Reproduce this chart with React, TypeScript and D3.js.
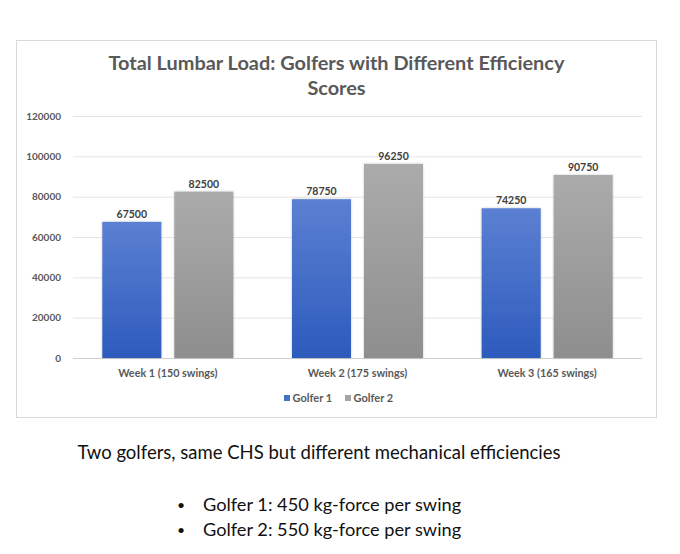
import * as d3 from 'd3'

const categories = ['Week 1 (150 swings)', 'Week 2 (175 swings)', 'Week 3 (165 swings)']
const seriesNames = ['Golfer 1', 'Golfer 2']
const golfer1 = [67500, 78750, 74250]
const golfer2 = [82500, 96250, 90750]
const yTicks = [0, 20000, 40000, 60000, 80000, 100000, 120000]

const W = 680
const H = 554
const PLOT = { left: 73, right: 642, top: 116, bottom: 358 }
const FONT = 'Lato, "Open Sans", sans-serif'
const TEXT = '#595959'

const GRADS = [
  { id: 'g1', top: '#5b80d2', bottom: '#2d5bbd', solid: '#4472c4' },
  { id: 'g2', top: '#ababab', bottom: '#8e8e8e', solid: '#a5a5a5' },
]

export default function App() {
  const values = [golfer1, golfer2]
  const x0 = d3.scaleBand<string>().domain(categories).range([PLOT.left, PLOT.right]).padding(0)
  const x1 = d3
    .scaleBand<string>()
    .domain(seriesNames)
    .range([0, x0.bandwidth()])
    .paddingInner(0.18)
    .paddingOuter(0.407)
  const y = d3.scaleLinear().domain([0, 120000]).range([PLOT.bottom, PLOT.top])

  return (
    <svg
      width={W}
      height={H}
      style={{ position: 'absolute', left: 0, top: 0, background: '#fff' }}
      fontFamily={FONT}
    >
      <defs>
        {GRADS.map(g => (
          <linearGradient key={g.id} id={g.id} x1="0" y1="0" x2="0" y2="1">
            <stop offset="0%" stopColor={g.top} />
            <stop offset="100%" stopColor={g.bottom} />
          </linearGradient>
        ))}
        <filter id="shadow" x="-20%" y="-10%" width="140%" height="120%">
          <feGaussianBlur in="SourceAlpha" stdDeviation="1.2" />
          <feComponentTransfer>
            <feFuncA type="linear" slope="0.25" />
          </feComponentTransfer>
          <feMerge>
            <feMergeNode />
            <feMergeNode in="SourceGraphic" />
          </feMerge>
        </filter>
      </defs>

      {/* chart frame */}
      <rect x={16.5} y={40.5} width={640} height={377} fill="#fff" stroke="#d9d9d9" />

      <text x={336.5} y={70} textAnchor="middle" fontSize={19.9} fontWeight={700} fill={TEXT}>
        Total Lumbar Load: Golfers with Different Efficiency
      </text>
      <text x={336.5} y={95} textAnchor="middle" fontSize={19.9} fontWeight={700} fill={TEXT}>
        Scores
      </text>

      {/* grid + y labels */}
      {yTicks.map(t => (
        <g key={t}>
          <line x1={PLOT.left} x2={PLOT.right} y1={y(t) + 0.5} y2={y(t) + 0.5} stroke={t === 0 ? '#d0d0d0' : '#e4e4e4'} />
          <text x={61} y={y(t) + 3.5} textAnchor="end" fontSize={10} fontWeight={700} fill={TEXT}>
            {t}
          </text>
        </g>
      ))}

      {/* bars */}
      {categories.map((c, ci) => (
        <g key={c} transform={`translate(${x0(c)},0)`}>
          {seriesNames.map((s, si) => {
            const v = values[si][ci]
            const bx = x1(s) as number
            return (
              <g key={s}>
                <rect
                  x={bx}
                  y={y(v)}
                  width={x1.bandwidth()}
                  height={y(0) - y(v)}
                  fill={`url(#${GRADS[si].id})`}
                  filter="url(#shadow)"
                />
                <text
                  x={bx + x1.bandwidth() / 2}
                  y={y(v) - 4}
                  textAnchor="middle"
                  fontSize={10.5}
                  fontWeight={700}
                  fill="#404040"
                >
                  {v}
                </text>
              </g>
            )
          })}
          <text
            x={x0.bandwidth() / 2}
            y={377}
            textAnchor="middle"
            fontSize={10.8}
            fontWeight={700}
            fill={TEXT}
          >
            {c}
          </text>
        </g>
      ))}

      {/* legend */}
      {seriesNames.map((s, si) => {
        const lx = si === 0 ? 284 : 345
        return (
          <g key={s}>
            <rect x={lx} y={395} width={6} height={6} fill={GRADS[si].solid} />
            <text x={lx + 8.5} y={402} fontSize={11} fontWeight={700} fill={TEXT}>
              {s}
            </text>
          </g>
        )
      })}

      {/* caption below the chart */}
      <text x={319} y={459} textAnchor="middle" fontSize={18.5} fill="#111">
        Two golfers, same CHS but different mechanical efficiencies
      </text>
      <text x={177} y={510} fontSize={14} fill="#111">•</text>
      <text x={203} y={511} fontSize={18.2} fill="#111">Golfer 1: 450 kg-force per swing</text>
      <text x={177} y={535} fontSize={14} fill="#111">•</text>
      <text x={203} y={536} fontSize={18.2} fill="#111">Golfer 2: 550 kg-force per swing</text>
    </svg>
  )
}
